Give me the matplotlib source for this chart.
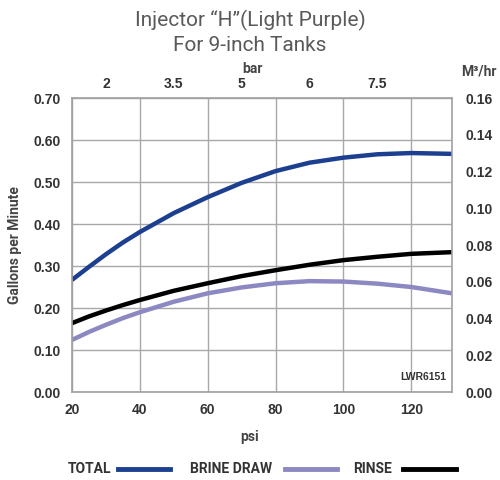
import matplotlib.pyplot as plt
import numpy as np

# psi 값 (가로축)
psi = [20, 25, 30, 35, 40, 50, 60, 70, 80, 90, 100, 110, 120, 132]

# 곡선 값 (gpm)
total = [0.267, 0.298, 0.328, 0.356, 0.381, 0.426, 0.464, 0.498, 0.526, 0.546, 0.558, 0.566, 0.569, 0.567]
brine = [0.124, 0.143, 0.160, 0.176, 0.190, 0.215, 0.235, 0.249, 0.259, 0.264, 0.263, 0.258, 0.250, 0.235]
rinse = [0.164, 0.180, 0.194, 0.207, 0.219, 0.241, 0.259, 0.276, 0.290, 0.303, 0.314, 0.322, 0.329, 0.333]

# 위쪽 bar 눈금
bar_pos = [30, 50, 70, 90, 110]
bar_labels = ['2', '3.5', '5', '6', '7.5']

gpm_ticks = [0.0, 0.1, 0.2, 0.3, 0.4, 0.5, 0.6, 0.7]
m3_ticks = [0.0, 0.02, 0.04, 0.06, 0.08, 0.10, 0.12, 0.14, 0.16]
psi_ticks = [20, 40, 60, 80, 100, 120]

c_total = '#1c3f8f'
c_brine = '#8c89c2'
c_rinse = '#000000'
txt = '#333333'
tick_font = dict(family='Liberation Sans', weight='bold', size=10)
lab_font = dict(family='Roboto', weight='bold', size=10, color='#444444')

fig = plt.figure(figsize=(5, 4.8), dpi=100)
ax = fig.add_axes([0.144, 0.1833, 0.76, 0.6125])

ax.plot(psi, total, color=c_total, lw=3.2, solid_capstyle='butt')
ax.plot(psi, brine, color=c_brine, lw=3.2, solid_capstyle='butt')
ax.plot(psi, rinse, color=c_rinse, lw=3.2, solid_capstyle='butt')

ax.set_xlim(20, 132)
ax.set_ylim(0, 0.7)
ax.set_xticks(psi_ticks)
ax.set_yticks(gpm_ticks)
ax.set_xticklabels([str(v) for v in psi_ticks], fontdict=tick_font, color=txt)
ax.set_yticklabels(['%.2f' % v for v in gpm_ticks], fontdict=tick_font, color=txt)
ax.grid(True, color='#a8a8a8', lw=1)
ax.tick_params(length=0, pad=8)
for s in ax.spines.values():
    s.set_color('#a0a0a0')
    s.set_linewidth(1.2)

# 오른쪽 M3/hr 축
ax2 = ax.twinx()
ax2.set_ylim(0, 0.16)
ax2.set_yticks(m3_ticks)
ax2.set_yticklabels(['%.2f' % v for v in m3_ticks], fontdict=tick_font, color=txt)
ax2.tick_params(length=0, pad=10)
for s in ax2.spines.values():
    s.set_visible(False)

# 위쪽 bar 축
ax3 = ax.twiny()
ax3.set_xlim(20, 132)
ax3.set_xticks(bar_pos)
ax3.set_xticklabels(bar_labels, fontdict=tick_font, color=txt)
ax3.tick_params(length=0, pad=5)
for s in ax3.spines.values():
    s.set_visible(False)

fig.text(0.03, 0.49, 'Gallons per Minute', ha='center', va='center', rotation=90, **lab_font)
fig.text(0.5, 0.09, 'psi', ha='center', va='center', **lab_font)
fig.text(0.505, 0.856, 'bar', ha='center', va='center', **lab_font)
fig.text(0.958, 0.852, 'M³/hr', ha='center', va='center', **lab_font)

fig.text(0.5, 0.957, 'Injector \u201cH\u201d(Light Purple)', ha='center', va='center',
         family='Roboto', size=15, color='#5a5a5a')
fig.text(0.5, 0.905, 'For 9-inch Tanks', ha='center', va='center',
         family='Roboto', size=15, color='#5a5a5a')

ax.text(0.985, 0.035, 'LWR6151', transform=ax.transAxes, ha='right', va='bottom',
        family='Liberation Sans', weight='bold', size=7.5, color=txt)

# 범례
y_leg = 0.023
items = [('TOTAL', c_total, 0.136, 0.236), ('BRINE DRAW', c_brine, 0.38, 0.57), ('RINSE', c_rinse, 0.706, 0.806)]
for label, col, xt, xl in items:
    fig.text(xt, y_leg, label, ha='left', va='center', family='Roboto', weight='bold', size=10, color='#333333')
    fig.add_artist(plt.Line2D([xl, xl + 0.105], [y_leg, y_leg], color=col, lw=3.5, transform=fig.transFigure))

fig.savefig('out.png', dpi=100)
